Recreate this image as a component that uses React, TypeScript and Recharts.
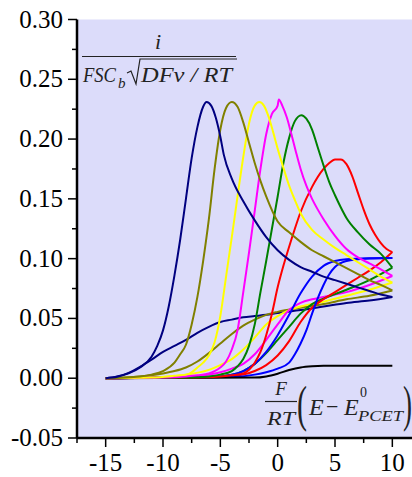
import React from 'react';
import { LineChart, Line, XAxis, YAxis, CartesianGrid } from 'recharts';

const xTicks = [-17.5, -15, -12.5, -10, -7.5, -5, -2.5, 0, 2.5, 5, 7.5, 10, 12.5];
const yTicks = [-0.05, -0.025, 0, 0.025, 0.05, 0.075, 0.1, 0.125, 0.15, 0.175, 0.2, 0.225, 0.25, 0.275, 0.3];

const navyPeakX = [-15, -14, -13, -12, -11, -10.5, -10, -9.5, -9, -8.5, -8, -7.5, -7, -6.5, -6.2, -5.8, -5.4, -5, -4.7, -4, -3, -2, -1, 0, 1, 2, 3, 4, 5, 6, 7, 8, 9, 10];
const navyPeakY = [0, 0.0012, 0.004, 0.009, 0.018, 0.027, 0.040, 0.060, 0.086, 0.116, 0.150, 0.184, 0.210, 0.227, 0.231, 0.228, 0.218, 0.202, 0.187, 0.167, 0.148, 0.132, 0.118, 0.107, 0.099, 0.093, 0.089, 0.085, 0.082, 0.079, 0.076, 0.073, 0.070, 0.068];

const olivePeakX = [-15, -12, -11, -10, -9, -8.5, -8, -7.5, -7, -6.5, -6, -5.5, -5, -4.5, -4, -3.5, -3, -2.5, -2, -1.5, -1, 0, 1, 2, 3, 4, 5, 6, 7, 8, 9, 10];
const olivePeakY = [0, 0.0015, 0.003, 0.006, 0.013, 0.020, 0.028, 0.045, 0.068, 0.098, 0.133, 0.175, 0.208, 0.226, 0.231, 0.227, 0.214, 0.197, 0.180, 0.165, 0.152, 0.131, 0.122, 0.114, 0.107, 0.102, 0.097, 0.092, 0.087, 0.082, 0.078, 0.0734];

const yellowPeakX = [-15, -11, -9, -8, -7.5, -7, -6.5, -6, -5.5, -5, -4.5, -4, -3.5, -3, -2.5, -2, -1.6, -1.2, -0.8, -0.4, 0, 0.5, 1, 1.5, 2, 3, 4, 5, 6, 7, 8, 9, 10];
const yellowPeakY = [0, 0.0005, 0.002, 0.003, 0.005, 0.009, 0.013, 0.019, 0.030, 0.052, 0.085, 0.118, 0.152, 0.185, 0.213, 0.228, 0.231, 0.228, 0.219, 0.206, 0.192, 0.176, 0.161, 0.149, 0.138, 0.124, 0.116, 0.109, 0.103, 0.097, 0.091, 0.085, 0.080];

const magentaPeakX = [-15, -10, -8, -7, -6, -5.5, -5, -4.5, -4, -3.5, -3, -2.5, -2, -1.5, -1, -0.5, 0, 0.1, 0.4, 0.8, 1.2, 1.6, 2, 2.5, 3, 3.5, 4, 5, 6, 7, 8, 9, 10];
const magentaPeakY = [0, 0.0005, 0.0015, 0.0025, 0.004, 0.006, 0.009, 0.014, 0.024, 0.040, 0.072, 0.105, 0.140, 0.175, 0.204, 0.221, 0.228, 0.233, 0.228, 0.218, 0.204, 0.189, 0.175, 0.161, 0.150, 0.141, 0.133, 0.119, 0.108, 0.101, 0.096, 0.091, 0.0855];

const greenPeakX = [-15, -8, -6, -5, -4, -3.5, -3, -2.5, -2, -1.5, -1, -0.5, 0, 0.5, 1, 1.5, 2.07, 2.5, 3, 3.5, 4, 4.5, 5, 5.5, 6, 7, 8, 9, 10];
const greenPeakY = [0, 0.0005, 0.0015, 0.003, 0.006, 0.010, 0.016, 0.027, 0.045, 0.072, 0.098, 0.125, 0.152, 0.180, 0.201, 0.215, 0.220, 0.217, 0.208, 0.193, 0.178, 0.164, 0.153, 0.143, 0.134, 0.122, 0.112, 0.104, 0.0924];

const redPeakX = [-15, -8, -5, -4, -3, -2.5, -2, -1.5, -1, -0.5, 0, 0.5, 1, 1.5, 2, 3, 4, 4.5, 5, 5.5, 6, 6.5, 7, 7.5, 8, 8.5, 9, 9.5, 10];
const redPeakY = [0, 0.0005, 0.0015, 0.0025, 0.004, 0.007, 0.013, 0.022, 0.036, 0.054, 0.076, 0.094, 0.110, 0.125, 0.139, 0.160, 0.175, 0.180, 0.183, 0.183, 0.179, 0.169, 0.155, 0.141, 0.129, 0.120, 0.113, 0.108, 0.1055];

const navyLowX = [-15, -14, -13, -12, -11, -10, -9, -8, -7, -6, -5, -4, -3, -2, -1, 0, 2, 4, 6, 8, 10];
const navyLowY = [0, 0.0015, 0.0045, 0.0095, 0.0155, 0.022, 0.027, 0.032, 0.038, 0.043, 0.047, 0.049, 0.051, 0.052, 0.053, 0.0545, 0.057, 0.060, 0.063, 0.065, 0.068];

const oliveLowX = [-15, -12, -10, -9, -8, -7, -6, -5, -4, -3, -2, -1, 0, 2, 4, 6, 8, 10];
const oliveLowY = [0, 0.0015, 0.004, 0.006, 0.009, 0.014, 0.021, 0.029, 0.037, 0.044, 0.049, 0.053, 0.0555, 0.059, 0.062, 0.066, 0.069, 0.0734];

const yellowLowX = [-15, -10, -8, -6, -5, -4, -3, -2, -1, 0, 1, 2, 4, 6, 8, 10];
const yellowLowY = [0, 0.001, 0.003, 0.007, 0.011, 0.016, 0.024, 0.034, 0.045, 0.052, 0.057, 0.060, 0.064, 0.069, 0.074, 0.080];

const magentaLowX = [-15, -8, -6, -5, -4, -3, -2, -1, 0, 1, 2, 3, 4, 6, 8, 10];
const magentaLowY = [0, 0.001, 0.003, 0.005, 0.008, 0.012, 0.020, 0.032, 0.045, 0.057, 0.063, 0.066, 0.068, 0.072, 0.078, 0.0855];

const greenLowX = [-15, -6, -4, -3, -2, -1, 0, 1, 2, 3, 4, 6, 8, 10];
const greenLowY = [0, 0.001, 0.003, 0.006, 0.012, 0.021, 0.032, 0.043, 0.054, 0.062, 0.0665, 0.074, 0.082, 0.0924];

const redLowX = [-15, -5, -3, -2, -1, 0, 1, 2, 3, 4, 5, 6, 7, 8, 9, 10];
const redLowY = [0, 0.001, 0.003, 0.006, 0.011, 0.019, 0.031, 0.047, 0.059, 0.066, 0.072, 0.078, 0.084, 0.090, 0.097, 0.1055];

const blueAX = [-15, -6, -4, -3, -2, -1, 0, 1, 2, 3, 4, 5, 6, 8, 10];
const blueAY = [0, 0.001, 0.003, 0.006, 0.012, 0.022, 0.036, 0.053, 0.071, 0.085, 0.094, 0.098, 0.0995, 0.1003, 0.1005];

const blueBX = [-15, -4, -2, -1, 0, 1, 1.5, 2, 2.5, 3, 3.5, 4, 4.5, 5, 6, 7, 8, 10];
const blueBY = [0, 0.001, 0.003, 0.005, 0.008, 0.013, 0.020, 0.029, 0.040, 0.054, 0.067, 0.078, 0.087, 0.093, 0.098, 0.0995, 0.1002, 0.1005];

const blackX = [-15, -2, -1, 0, 1, 2, 3, 4, 6, 10];
const blackY = [0, 0.0005, 0.0015, 0.0038, 0.0068, 0.0090, 0.0100, 0.0104, 0.0105, 0.0105];

const zip = (xs: number[], ys: number[]) => xs.map((x, i) => ({ x, y: ys[i] }));

const series = [
  { name: 'navyLow', color: '#000080', data: zip(navyLowX, navyLowY) },
  { name: 'oliveLow', color: '#808000', data: zip(oliveLowX, oliveLowY) },
  { name: 'yellowLow', color: '#ffff00', data: zip(yellowLowX, yellowLowY) },
  { name: 'magentaLow', color: '#ff00ff', data: zip(magentaLowX, magentaLowY) },
  { name: 'greenLow', color: '#008000', data: zip(greenLowX, greenLowY) },
  { name: 'redLow', color: '#ff0000', data: zip(redLowX, redLowY) },
  { name: 'blueA', color: '#0000ff', data: zip(blueAX, blueAY) },
  { name: 'blueB', color: '#0000ff', data: zip(blueBX, blueBY) },
  { name: 'black', color: '#000000', data: zip(blackX, blackY) },
  { name: 'redPeak', color: '#ff0000', data: zip(redPeakX, redPeakY) },
  { name: 'greenPeak', color: '#008000', data: zip(greenPeakX, greenPeakY) },
  { name: 'magentaPeak', color: '#ff00ff', data: zip(magentaPeakX, magentaPeakY) },
  { name: 'yellowPeak', color: '#ffff00', data: zip(yellowPeakX, yellowPeakY) },
  { name: 'olivePeak', color: '#808000', data: zip(olivePeakX, olivePeakY) },
  { name: 'navyPeak', color: '#000080', data: zip(navyPeakX, navyPeakY) },
];

const FONT = 'Liberation Serif, DejaVu Serif, serif';
const fontStyle = { fontFamily: FONT };

const isMult = (v: number, m: number) => Math.abs(v / m - Math.round(v / m)) < 1e-6;

const BottomTick = (props: any) => {
  const { x, y, payload } = props;
  const v = payload.value as number;
  const major = isMult(v, 5);
  return (
    <g>
      <line x1={x} x2={x} y1={y} y2={y + (major ? 9 : 5)} stroke="#000" strokeWidth={1.5} />
      {major && v >= -15 && v <= 10 && (
        <text x={x} y={y + 33} textAnchor="middle" style={fontStyle} fontSize={25} fill="#000">
          {String(v)}
        </text>
      )}
    </g>
  );
};

const TopTick = (props: any) => {
  const { x, y } = props;
  return <line x1={x} x2={x} y1={y} y2={y + 4} stroke="#000" strokeWidth={1.2} />;
};

const LeftTick = (props: any) => {
  const { x, y, payload } = props;
  const v = payload.value as number;
  const major = isMult(v, 0.05);
  return (
    <g>
      <line x1={x} x2={x - (major ? 9 : 5)} y1={y} y2={y} stroke="#000" strokeWidth={1.5} />
      {major && (
        <text x={x - 14} y={y + 8} textAnchor="end" style={fontStyle} fontSize={25} fill="#000">
          {v.toFixed(2)}
        </text>
      )}
    </g>
  );
};

export default function App() {
  return (
    <div style={{ position: 'absolute', left: 0, top: 0, width: 412, height: 477, overflow: 'hidden', background: '#fff' }}>
      <LineChart width={421} height={477} margin={{ top: 19.5, right: 0, bottom: 0, left: 0 }}>
        <CartesianGrid fill="#dcdcfa" stroke="none" horizontal={false} vertical={false} />
        <XAxis
          xAxisId="bottom"
          dataKey="x"
          type="number"
          domain={[-17.5, 12.5]}
          ticks={xTicks}
          interval={0}
          height={39}
          tickSize={0}
          tickMargin={0}
          tickLine={false}
          tick={<BottomTick />}
          axisLine={{ stroke: '#000', strokeWidth: 2.5 }}
          allowDataOverflow
        />
        <XAxis
          xAxisId="top"
          orientation="top"
          dataKey="x"
          type="number"
          domain={[-17.5, 12.5]}
          ticks={xTicks}
          interval={0}
          height={0}
          tickSize={0}
          tickMargin={0}
          tickLine={false}
          tick={<TopTick />}
          axisLine={{ stroke: '#000', strokeWidth: 2.5 }}
          allowDataOverflow
        />
        <YAxis
          dataKey="y"
          type="number"
          domain={[-0.05, 0.3]}
          ticks={yTicks}
          interval={0}
          width={77}
          tickSize={0}
          tickMargin={0}
          tickLine={false}
          tick={<LeftTick />}
          axisLine={{ stroke: '#000', strokeWidth: 2.5 }}
          allowDataOverflow
        />
        {series.map((s) => (
          <Line
            key={s.name}
            xAxisId="bottom"
            data={s.data}
            dataKey="y"
            type="monotone"
            stroke={s.color}
            strokeWidth={2}
            dot={false}
            activeDot={false}
            isAnimationActive={false}
          />
        ))}
      </LineChart>
      <svg
        width={412}
        height={477}
        style={{ position: 'absolute', left: 0, top: 0, pointerEvents: 'none', fontFamily: FONT }}
      >
        <text x={158} y={49} fontSize={22} fontStyle="italic" textAnchor="middle" fill="#222">i</text>
        <line x1={82} x2={236} y1={56.5} y2={56.5} stroke="#222" strokeWidth={1.2} />
        <text x={83} y={82} fontSize={21} fontStyle="italic" fill="#222" textLength={33} lengthAdjust="spacingAndGlyphs">FSC</text>
        <text x={118} y={88} fontSize={15} fontStyle="italic" fill="#222">b</text>
        <path d="M127 73 L131 71 L136 84 L140 59 L237 59" fill="none" stroke="#222" strokeWidth={1.2} />
        <text x={141} y={82} fontSize={21} fontStyle="italic" fill="#222" textLength={91} lengthAdjust="spacingAndGlyphs">DFν / RT</text>

        <text x={281} y={395} fontSize={19} fontStyle="italic" textAnchor="middle" fill="#222">F</text>
        <line x1={265} x2={297} y1={401.5} y2={401.5} stroke="#222" strokeWidth={1.2} />
        <text x={267} y={425} fontSize={19} fontStyle="italic" fill="#222" textLength={28} lengthAdjust="spacingAndGlyphs">RT</text>
        <text x={297} y={421} fontSize={50} fill="#222" textLength={10} lengthAdjust="spacingAndGlyphs">(</text>
        <text x={309} y={415} fontSize={24} fontStyle="italic" fill="#222">E</text>
        <text x={326} y={414} fontSize={22} fill="#222">−</text>
        <text x={344} y={415} fontSize={24} fontStyle="italic" fill="#222">E</text>
        <text x={360} y={397} fontSize={14} fill="#222">0</text>
        <text x={358} y={421} fontSize={15} fontStyle="italic" fill="#222" textLength={45} lengthAdjust="spacingAndGlyphs">PCET</text>
        <text x={403} y={421} fontSize={50} fill="#222" textLength={9} lengthAdjust="spacingAndGlyphs">)</text>
      </svg>
    </div>
  );
}
